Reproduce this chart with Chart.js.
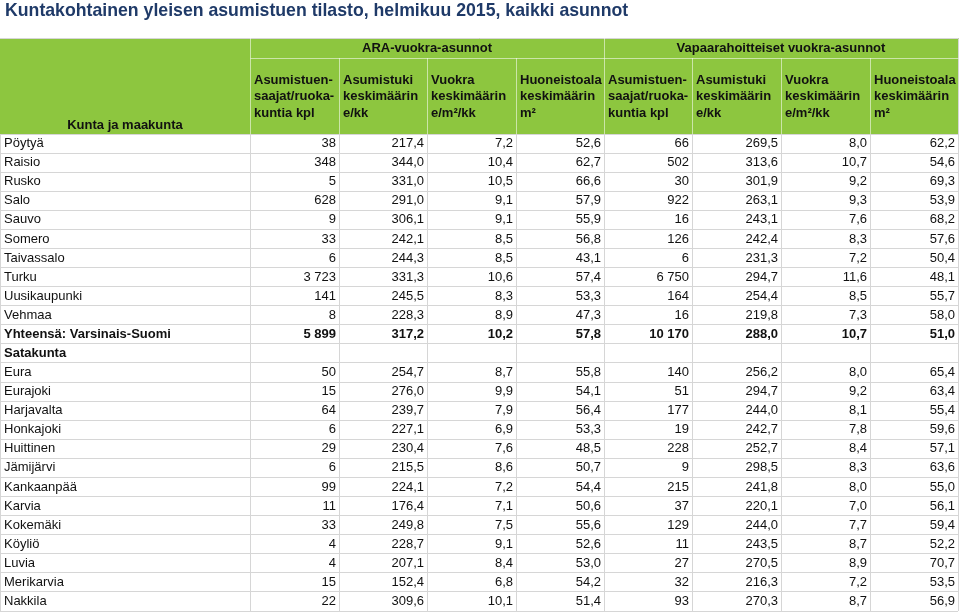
<!DOCTYPE html>
<html>
<head>
<meta charset="utf-8">
<script src="https://cdn.jsdelivr.net/npm/chart.js@4/dist/chart.umd.min.js"></script>
<style>
  body { margin: 0; background: #fff; }
</style>
</head>
<body>
<canvas id="tableChart" width="960" height="612"></canvas>
<script>
// Rows (kunta ja maakunta)
const rows = [
    "Pöytyä", "Raisio", "Rusko", "Salo", "Sauvo", "Somero", "Taivassalo", "Turku",
    "Uusikaupunki", "Vehmaa", "Yhteensä: Varsinais-Suomi", "Satakunta", "Eura",
    "Eurajoki", "Harjavalta", "Honkajoki", "Huittinen", "Jämijärvi", "Kankaanpää",
    "Karvia", "Kokemäki", "Köyliö", "Luvia", "Merikarvia", "Nakkila"
];
const boldRows = ["Yhteensä: Varsinais-Suomi", "Satakunta"];

// ARA-vuokra-asunnot
const araKpl = [38, 348, 5, 628, 9, 33, 6, 3723, 141, 8, 5899, null, 50, 15, 64, 6, 29, 6, 99, 11, 33, 4, 4, 15, 22];
const araTuki = [217.4, 344.0, 331.0, 291.0, 306.1, 242.1, 244.3, 331.3, 245.5, 228.3, 317.2, null, 254.7, 276.0, 239.7, 227.1, 230.4, 215.5, 224.1, 176.4, 249.8, 228.7, 207.1, 152.4, 309.6];
const araVuokra = [7.2, 10.4, 10.5, 9.1, 9.1, 8.5, 8.5, 10.6, 8.3, 8.9, 10.2, null, 8.7, 9.9, 7.9, 6.9, 7.6, 8.6, 7.2, 7.1, 7.5, 9.1, 8.4, 6.8, 10.1];
const araAla = [52.6, 62.7, 66.6, 57.9, 55.9, 56.8, 43.1, 57.4, 53.3, 47.3, 57.8, null, 55.8, 54.1, 56.4, 53.3, 48.5, 50.7, 54.4, 50.6, 55.6, 52.6, 53.0, 54.2, 51.4];

// Vapaarahoitteiset vuokra-asunnot
const vapKpl = [66, 502, 30, 922, 16, 126, 6, 6750, 164, 16, 10170, null, 140, 51, 177, 19, 228, 9, 215, 37, 129, 11, 27, 32, 93];
const vapTuki = [269.5, 313.6, 301.9, 263.1, 243.1, 242.4, 231.3, 294.7, 254.4, 219.8, 288.0, null, 256.2, 294.7, 244.0, 242.7, 252.7, 298.5, 241.8, 220.1, 244.0, 243.5, 270.5, 216.3, 270.3];
const vapVuokra = [8.0, 10.7, 9.2, 9.3, 7.6, 8.3, 7.2, 11.6, 8.5, 7.3, 10.7, null, 8.0, 9.2, 8.1, 7.8, 8.4, 8.3, 8.0, 7.0, 7.7, 8.7, 8.9, 7.2, 8.7];
const vapAla = [62.2, 54.6, 69.3, 53.9, 68.2, 57.6, 50.4, 48.1, 55.7, 58.0, 51.0, null, 65.4, 63.4, 55.4, 59.6, 57.1, 63.6, 55.0, 56.1, 59.4, 52.2, 70.7, 53.5, 56.9];

// Headers
const title = "Kuntakohtainen yleisen asumistuen tilasto, helmikuu 2015, kaikki asunnot";
const firstHeader = "Kunta ja maakunta";
const groupHeaders = ["ARA-vuokra-asunnot", "Vapaarahoitteiset vuokra-asunnot"];
const colHeaders = [
    ["Asumistuen-", "saajat/ruoka-", "kuntia kpl"],
    ["Asumistuki", "keskimäärin", "e/kk"],
    ["Vuokra", "keskimäärin", "e/m²/kk"],
    ["Huoneistoala", "keskimäärin", "m²"]
];

const columns = [araKpl, araTuki, araVuokra, araAla, vapKpl, vapTuki, vapVuokra, vapAla];
const decimals = [0, 1, 1, 1, 0, 1, 1, 1];

// layout (pixels on the x scale)
const colEdges = [0, 250, 339, 427, 516, 604, 692, 781, 870, 958];
const FONT = "'Liberation Sans', Arial, sans-serif";
const GREEN = "#8dc63f";
const GRID = "#d6d6d6";

function fmt(v, dec) {
    const parts = v.toFixed(dec).split(".");
    const int = parts[0].replace(/\B(?=(\d{3})+(?!\d))/g, " ");
    return parts[1] ? int + "," + parts[1] : int;
}

const datasets = columns.map((vals, c) => ({
    label: "col" + c,
    data: rows.map((name, r) => vals[r] == null ? null : { x: colEdges[c + 2], y: name, v: vals[r] })
        .filter(d => d !== null),
    pointRadius: 0,
    showLine: false
}));

// header, title and cell texts
const tablePlugin = {
    id: "tablePlugin",
    afterDraw(chart) {
        const ctx = chart.ctx;
        const x = chart.scales.x;
        const area = chart.chartArea;
        const px = v => Math.round(x.getPixelForValue(v)) + 0.5;
        const hTop = 38, hMid = 58, hBot = area.top;

        ctx.save();
        // title
        ctx.fillStyle = "#1f3a68";
        ctx.font = "bold 17.7px " + FONT;
        ctx.textAlign = "left";
        ctx.textBaseline = "middle";
        ctx.fillText(title, 5, 11);

        // header background
        ctx.fillStyle = GREEN;
        ctx.fillRect(px(colEdges[0]) - 0.5, hTop, px(colEdges[9]) - px(colEdges[0]) + 1, hBot - hTop);
        ctx.strokeStyle = GRID;
        ctx.lineWidth = 1;
        ctx.beginPath();
        ctx.moveTo(0, hTop + 0.5);
        ctx.lineTo(px(colEdges[9]), hTop + 0.5);
        ctx.lineTo(px(colEdges[9]), hBot);
        ctx.stroke();

        ctx.strokeStyle = "rgba(255,255,255,0.55)";
        ctx.beginPath();
        ctx.moveTo(px(colEdges[1]), hMid + 0.5);
        ctx.lineTo(px(colEdges[9]), hMid + 0.5);
        [1, 5].forEach(i => { ctx.moveTo(px(colEdges[i]), hTop); ctx.lineTo(px(colEdges[i]), hBot); });
        [2, 3, 4, 6, 7, 8].forEach(i => { ctx.moveTo(px(colEdges[i]), hMid); ctx.lineTo(px(colEdges[i]), hBot); });
        ctx.stroke();

        // header texts
        ctx.fillStyle = "#111";
        ctx.font = "bold 13px " + FONT;
        ctx.textAlign = "center";
        ctx.fillText(groupHeaders[0], (x.getPixelForValue(colEdges[1]) + x.getPixelForValue(colEdges[5])) / 2, 48);
        ctx.fillText(groupHeaders[1], (x.getPixelForValue(colEdges[5]) + x.getPixelForValue(colEdges[9])) / 2, 48);
        ctx.fillText(firstHeader, (x.getPixelForValue(colEdges[0]) + x.getPixelForValue(colEdges[1])) / 2, 125);
        ctx.textAlign = "left";
        for (let c = 0; c < 8; c++) {
            const lines = colHeaders[c % 4];
            lines.forEach((t, k) => ctx.fillText(t, x.getPixelForValue(colEdges[c + 1]) + 4, 80 + k * 16.5));
        }

        // cell values
        ctx.textAlign = "right";
        chart.data.datasets.forEach((ds, c) => {
            const meta = chart.getDatasetMeta(c);
            meta.data.forEach((el, i) => {
                const d = ds.data[i];
                ctx.font = (boldRows.includes(d.y) ? "bold " : "") + "13px " + FONT;
                ctx.fillText(fmt(d.v, decimals[c]), el.x - 3, el.y);
            });
        });
        ctx.restore();
    }
};

new Chart(document.getElementById("tableChart"), {
    type: "scatter",
    data: { datasets: datasets },
    options: {
        responsive: false,
        animation: false,
        events: [],
        layout: { padding: { top: 134, right: 2, bottom: 1, left: 0 } },
        plugins: {
            legend: { display: false },
            tooltip: { enabled: false },
            title: { display: false }
        },
        scales: {
            x: {
                type: "linear",
                min: colEdges[0],
                max: colEdges[colEdges.length - 1],
                afterBuildTicks: scale => { scale.ticks = colEdges.map(v => ({ value: v })); },
                ticks: { display: false },
                grid: { color: GRID, drawTicks: false },
                border: { display: false }
            },
            y: {
                type: "category",
                labels: rows,
                offset: true,
                afterFit: scale => { scale.width = 0; scale.paddingTop = 0; scale.paddingBottom = 0; },
                ticks: {
                    mirror: true,
                    padding: 4,
                    autoSkip: false,
                    color: "#111",
                    font: ctx => ({ family: FONT, size: 13, weight: boldRows.includes(rows[ctx.index]) ? "bold" : "normal" })
                },
                grid: { color: GRID, offset: true, drawTicks: false },
                border: { display: false }
            }
        }
    },
    plugins: [tablePlugin]
});
</script>
</body>
</html>
